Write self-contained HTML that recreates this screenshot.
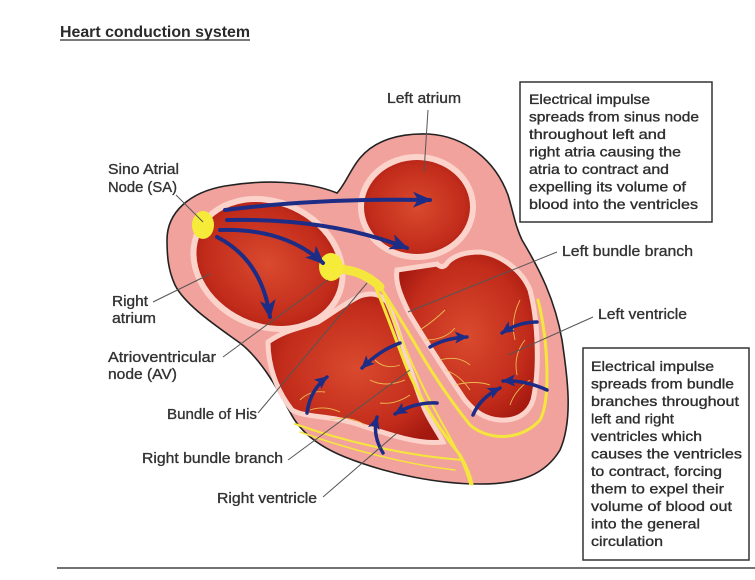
<!DOCTYPE html>
<html><head><meta charset="utf-8">
<style>
html,body{margin:0;padding:0;background:#fff;}
svg{display:block;}
text{font-family:"Liberation Sans",Arial,sans-serif;}
</style></head><body>
<svg width="755" height="580" viewBox="0 0 755 580" xmlns="http://www.w3.org/2000/svg">
<defs>
<radialGradient id="ch" cx="50%" cy="50%" r="60%">
<stop offset="0" stop-color="#d94a2e"/><stop offset="0.7" stop-color="#c22c1b"/><stop offset="1" stop-color="#a3180f"/>
</radialGradient>
<marker id="ah" markerUnits="userSpaceOnUse" markerWidth="20" markerHeight="18" refX="17" refY="9" orient="auto"><path d="M0,1 L19,9 L0,17 L5,9 Z" fill="#1d2c85"/></marker>
<marker id="as" markerUnits="userSpaceOnUse" markerWidth="14" markerHeight="14" refX="12" refY="7" orient="auto"><path d="M0,1 L13,7 L0,13 L3,7 Z" fill="#1d2c85"/></marker>
</defs>

<!-- title -->
<text x="60" y="37" font-size="16" font-weight="bold" fill="#2a2a2a" textLength="190" lengthAdjust="spacingAndGlyphs">Heart conduction system</text>
<line x1="60" y1="40" x2="250" y2="40" stroke="#2a2a2a" stroke-width="1.3"/>

<!-- heart wall -->
<path d="M167,240 C167,212 190,192 225,186 C260,180 305,180 337,193 C345,185 350,170 360,158 C375,140 400,133 428,134 C465,136 495,160 508,195 C514,215 515,225 522,240 C540,270 555,300 562,340 C568,380 573,420 560,450 C545,475 520,484 480,484 C440,484 390,475 345,457 C320,447 300,432 290,412 C278,390 262,360 240,343 C215,325 185,305 175,285 C168,270 167,255 167,240 Z" fill="#f2a29c" stroke="#222" stroke-width="1.6"/>

<!-- chambers -->
<ellipse cx="268" cy="264" rx="77" ry="62" transform="rotate(25 268 264)" fill="url(#ch)" stroke="#fbd3ca" stroke-width="6"/>
<ellipse cx="417" cy="207" rx="56" ry="50" fill="url(#ch)" stroke="#fbd3ca" stroke-width="6"/>
<path d="M397,270 L437,264 Q443,270 448,262 Q458,252 480,252 C500,254 522,270 530,290 C538,320 540,370 533,400 C528,415 515,421 500,420 C485,419 475,412 465,400 C448,375 425,340 410,315 C400,295 395,282 397,270 Z" fill="url(#ch)" stroke="#fbd3ca" stroke-width="5"/>
<path d="M268,342 C285,330 300,328 318,322 C330,315 345,303 360,296 C372,292 380,294 387,302 C400,330 410,375 425,410 C432,425 440,435 443,442 C420,445 390,435 360,425 C330,415 305,418 292,410 C276,390 268,365 268,342 Z" fill="url(#ch)" stroke="#fbd3ca" stroke-width="5"/>

<!-- fibers -->
<g stroke="#f0c858" stroke-width="0.9" fill="none" opacity="0.9">
<path d="M420,330 q15,-10 25,-20 M425,340 q20,0 30,-12 M440,360 q18,-5 30,5 M445,370 q15,5 25,20 M455,385 q20,-5 35,0 M520,300 q-10,20 -5,40 M525,340 q-12,15 -8,35 M530,380 q-15,10 -20,25"/>
<path d="M400,365 q-15,5 -25,-5 M405,380 q-20,8 -35,0 M410,395 q-15,10 -30,8 M300,400 q10,-10 25,-8 M310,410 q15,-5 30,2 M330,420 q20,-5 35,5"/>
</g>

<!-- conduction (yellow) -->
<g stroke="#f4e63c" fill="none" stroke-linecap="round">
<path d="M333,268 C350,270 365,272 380,287" stroke-width="9"/>
<path d="M380,287 C392,305 402,322 414,342 C430,370 450,400 470,425 C490,442 522,440 540,420 C551,400 548,340 538,300" stroke-width="3"/>
<path d="M376,288 C386,312 396,340 406,366 C420,400 440,430 460,455 C466,465 470,475 472,484" stroke-width="3"/>
<path d="M383,292 C398,332 418,382 447,432 C458,452 466,468 470,484" stroke-width="2"/>
<path d="M295,424 C340,440 400,455 462,460" stroke-width="2"/>
<path d="M300,432 C350,450 410,465 455,470" stroke-width="1.5"/>
</g>
<ellipse cx="203" cy="225" rx="11" ry="14" fill="#f5eb38"/>
<ellipse cx="331" cy="267" rx="12" ry="14" fill="#f5eb38"/>

<!-- atrial arrows -->
<g stroke="#1d2c85" fill="none" stroke-linecap="round">
<path d="M225,210 Q320,198 430,200" stroke-width="4" marker-end="url(#ah)"/>
<path d="M227,220 Q330,218 407,248" stroke-width="4" marker-end="url(#ah)"/>
<path d="M220,230 Q285,228 323,263" stroke-width="4" marker-end="url(#ah)"/>
<path d="M217,237 Q262,260 270,317" stroke-width="4" marker-end="url(#ah)"/>
<!-- ventricle arrows -->
<path d="M400,343 Q380,350 362,368" stroke-width="3.5" marker-end="url(#as)"/>
<path d="M307,413 Q310,390 327,377" stroke-width="3.5" marker-end="url(#as)"/>
<path d="M437,403 Q415,402 395,414" stroke-width="3.5" marker-end="url(#as)"/>
<path d="M383,453 Q372,435 377,417" stroke-width="3.5" marker-end="url(#as)"/>
<path d="M430,347 Q445,338 467,337" stroke-width="3.5" marker-end="url(#as)"/>
<path d="M537,322 Q518,322 502,333" stroke-width="3.5" marker-end="url(#as)"/>
<path d="M547,390 Q525,380 503,381" stroke-width="3.5" marker-end="url(#as)"/>
<path d="M473,415 Q480,398 500,388" stroke-width="3.5" marker-end="url(#as)"/>
</g>

<!-- leader lines -->
<g stroke="#555" stroke-width="1" fill="none">
<line x1="176" y1="195" x2="203" y2="222"/>
<line x1="428" y1="110" x2="424" y2="172"/>
<line x1="153" y1="302" x2="210" y2="274"/>
<line x1="223" y1="357" x2="328" y2="280"/>
<line x1="258" y1="413" x2="367" y2="283"/>
<line x1="288" y1="460" x2="410" y2="370"/>
<line x1="323" y1="497" x2="397" y2="433"/>
<line x1="557" y1="252" x2="408" y2="312"/>
<line x1="593" y1="317" x2="508" y2="355"/>
</g>

<!-- labels -->
<g font-size="15" fill="#333" stroke="#333" stroke-width="0.35">
<text x="108" y="174" textLength="71" lengthAdjust="spacingAndGlyphs">Sino Atrial</text>
<text x="108" y="192" textLength="69" lengthAdjust="spacingAndGlyphs">Node (SA)</text>
<text x="387" y="103" textLength="74" lengthAdjust="spacingAndGlyphs">Left atrium</text>
<text x="112" y="306" textLength="36" lengthAdjust="spacingAndGlyphs">Right</text>
<text x="112" y="323" textLength="44" lengthAdjust="spacingAndGlyphs">atrium</text>
<text x="108" y="362" textLength="108" lengthAdjust="spacingAndGlyphs">Atrioventricular</text>
<text x="108" y="379" textLength="69" lengthAdjust="spacingAndGlyphs">node (AV)</text>
<text x="167" y="419" textLength="90" lengthAdjust="spacingAndGlyphs">Bundle of His</text>
<text x="142" y="463" textLength="141" lengthAdjust="spacingAndGlyphs">Right bundle branch</text>
<text x="217" y="503" textLength="100" lengthAdjust="spacingAndGlyphs">Right ventricle</text>
<text x="562" y="256" textLength="131" lengthAdjust="spacingAndGlyphs">Left bundle branch</text>
<text x="598" y="319" textLength="89" lengthAdjust="spacingAndGlyphs">Left ventricle</text>
</g>

<!-- box 1 -->
<rect x="520" y="82" width="192" height="140" fill="#fff" stroke="#333" stroke-width="1.5"/>
<g font-size="14" fill="#2e2e2e" stroke="#2e2e2e" stroke-width="0.35">
<text x="529" y="104" textLength="121" lengthAdjust="spacingAndGlyphs">Electrical impulse</text>
<text x="529" y="121.5" textLength="170" lengthAdjust="spacingAndGlyphs">spreads from sinus node</text>
<text x="529" y="139" textLength="137" lengthAdjust="spacingAndGlyphs">throughout left and</text>
<text x="529" y="156.5" textLength="152" lengthAdjust="spacingAndGlyphs">right atria causing the</text>
<text x="529" y="174" textLength="140" lengthAdjust="spacingAndGlyphs">atria to contract and</text>
<text x="529" y="191.5" textLength="157" lengthAdjust="spacingAndGlyphs">expelling its volume of</text>
<text x="529" y="209" textLength="169" lengthAdjust="spacingAndGlyphs">blood into the ventricles</text>
</g>

<!-- box 2 -->
<rect x="583" y="348" width="166" height="212" fill="#fff" stroke="#333" stroke-width="1.5"/>
<g font-size="14" fill="#2e2e2e" stroke="#2e2e2e" stroke-width="0.35">
<text x="591" y="371" textLength="123" lengthAdjust="spacingAndGlyphs">Electrical impulse</text>
<text x="591" y="388.5" textLength="143" lengthAdjust="spacingAndGlyphs">spreads from bundle</text>
<text x="591" y="406" textLength="148" lengthAdjust="spacingAndGlyphs">branches throughout</text>
<text x="591" y="423.5" textLength="83" lengthAdjust="spacingAndGlyphs">left and right</text>
<text x="591" y="441" textLength="111" lengthAdjust="spacingAndGlyphs">ventricles which</text>
<text x="591" y="458.5" textLength="151" lengthAdjust="spacingAndGlyphs">causes the ventricles</text>
<text x="591" y="476" textLength="131" lengthAdjust="spacingAndGlyphs">to contract, forcing</text>
<text x="591" y="493.5" textLength="133" lengthAdjust="spacingAndGlyphs">them to expel their</text>
<text x="591" y="511" textLength="141" lengthAdjust="spacingAndGlyphs">volume of blood out</text>
<text x="591" y="528.5" textLength="109" lengthAdjust="spacingAndGlyphs">into the general</text>
<text x="591" y="546" textLength="72" lengthAdjust="spacingAndGlyphs">circulation</text>
</g>

<!-- bottom rule -->
<line x1="57" y1="568" x2="755" y2="568" stroke="#444" stroke-width="1.5"/>
</svg>
</body></html>
